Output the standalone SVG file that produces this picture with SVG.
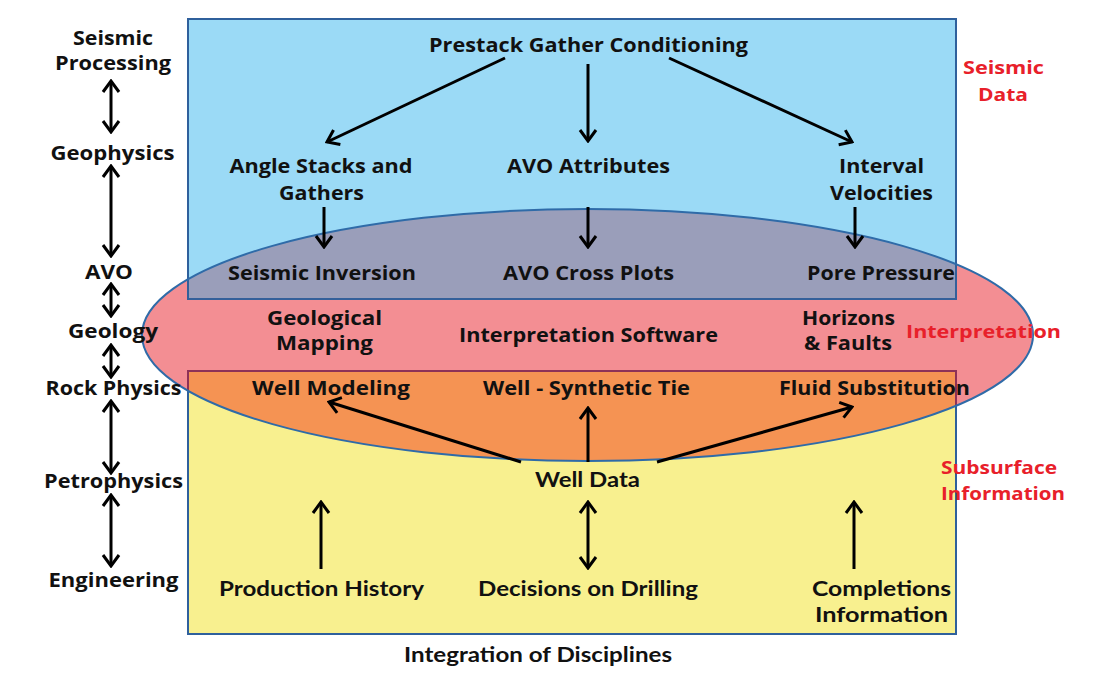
<svg xmlns="http://www.w3.org/2000/svg" width="1100" height="680" viewBox="0 0 1100 680">
<style>
.t{font-family:"Open Sans","DejaVu Sans",sans-serif;font-weight:700;font-size:20px;fill:#111;text-anchor:middle}
.l{font-family:"Open Sans","DejaVu Sans",sans-serif;font-weight:700;font-size:19.5px;fill:#111;text-anchor:middle}
.c{font-family:"Lato","Open Sans",sans-serif;font-weight:700;font-size:20px;fill:#111;text-anchor:middle}
.r{font-family:"Open Sans","DejaVu Sans",sans-serif;font-weight:700;font-size:18.5px;fill:#E8202A;text-anchor:middle}
.a{stroke:#000;stroke-width:3;fill:none;marker-end:url(#ah)}
.d{stroke:#000;stroke-width:3;fill:none;marker-end:url(#ah);marker-start:url(#ah)}
</style>
<defs>
<marker id="ah" viewBox="-14 -10 16 20" markerWidth="16" markerHeight="20" refX="0" refY="0" orient="auto-start-reverse" markerUnits="userSpaceOnUse">
<path d="M-11,-8 L0,0 L-11,8" fill="none" stroke="#000" stroke-width="3"/>
</marker>
<clipPath id="cTop"><rect x="188" y="19" width="768" height="280"/></clipPath>
<clipPath id="cBot"><rect x="188" y="371" width="768" height="263"/></clipPath>
<clipPath id="cEll"><ellipse cx="587.5" cy="335" rx="445.5" ry="126"/></clipPath>
</defs>
<rect width="1100" height="680" fill="#fff"/>

<g id="seismic-data-box">
<rect x="188" y="19" width="768" height="280" fill="#9BDAF6" stroke="#2F609C" stroke-width="2"/>
</g>
<g id="subsurface-box">
<rect x="188" y="371" width="768" height="263" fill="#F8F08F" stroke="#2F609C" stroke-width="2"/>
</g>
<g id="interpretation-ellipse">
<ellipse cx="587.5" cy="335" rx="445.5" ry="126" fill="#F38E93"/>
<ellipse cx="587.5" cy="335" rx="445.5" ry="126" fill="#9A9EBA" clip-path="url(#cTop)"/>
<ellipse cx="587.5" cy="335" rx="445.5" ry="126" fill="#F59353" clip-path="url(#cBot)"/>
<rect x="188" y="19" width="768" height="280" fill="none" stroke="#34609A" stroke-width="2" clip-path="url(#cEll)"/>
<rect x="188" y="371" width="768" height="263" fill="none" stroke="#8E3257" stroke-width="2" clip-path="url(#cEll)"/>
<ellipse cx="587.5" cy="335" rx="445.5" ry="126" fill="none" stroke="#2F6BA8" stroke-width="2"/>
</g>

<g id="connectors">
<line class="a" x1="505" y1="58" x2="327" y2="142"/>
<line class="a" x1="588" y1="64" x2="588" y2="141"/>
<line class="a" x1="669" y1="58" x2="852" y2="142"/>
<line class="a" x1="324" y1="207" x2="324" y2="247"/>
<line class="a" x1="588" y1="207" x2="588" y2="247"/>
<line class="a" x1="855" y1="207" x2="855" y2="247"/>
<line class="a" x1="521" y1="462" x2="329" y2="402"/>
<line class="a" x1="588" y1="462" x2="588" y2="408"/>
<line class="a" x1="657" y1="462" x2="852" y2="407"/>
<line class="a" x1="321" y1="569" x2="321" y2="502"/>
<line class="d" x1="588" y1="502" x2="588" y2="568"/>
<line class="a" x1="854" y1="569" x2="854" y2="502"/>
<line class="d" x1="111" y1="81" x2="111" y2="132"/>
<line class="d" x1="111" y1="166" x2="111" y2="256"/>
<line class="d" x1="111" y1="284" x2="111" y2="316"/>
<line class="d" x1="111" y1="345" x2="111" y2="377"/>
<line class="d" x1="111" y1="401" x2="111" y2="473"/>
<line class="d" x1="111" y1="495" x2="111" y2="566"/>
</g>

<g id="left-disciplines">
<text class="l" x="113" y="45" textLength="80" lengthAdjust="spacingAndGlyphs">Seismic</text>
<text class="l" x="113" y="70" textLength="116" lengthAdjust="spacingAndGlyphs">Processing</text>
<text class="l" x="112.5" y="160" textLength="124" lengthAdjust="spacingAndGlyphs">Geophysics</text>
<text class="l" x="109" y="279" textLength="48" lengthAdjust="spacingAndGlyphs">AVO</text>
<text class="l" x="113" y="338" textLength="90" lengthAdjust="spacingAndGlyphs">Geology</text>
<text class="l" x="113.5" y="395" textLength="136" lengthAdjust="spacingAndGlyphs">Rock Physics</text>
<text class="l" x="113.5" y="488" textLength="139" lengthAdjust="spacingAndGlyphs">Petrophysics</text>
<text class="l" x="113.5" y="587" textLength="130" lengthAdjust="spacingAndGlyphs">Engineering</text>
</g>

<g id="n-prestack"><text class="t" x="588.5" y="52" textLength="319" lengthAdjust="spacingAndGlyphs">Prestack Gather Conditioning</text></g>
<g id="n-angle"><text class="t" x="321" y="173" textLength="183" lengthAdjust="spacingAndGlyphs">Angle Stacks and</text><text class="t" x="321.5" y="200" textLength="85" lengthAdjust="spacingAndGlyphs">Gathers</text></g>
<g id="n-avoattr"><text class="t" x="588.5" y="173" textLength="163" lengthAdjust="spacingAndGlyphs">AVO Attributes</text></g>
<g id="n-interval"><text class="t" x="881.5" y="173" textLength="85" lengthAdjust="spacingAndGlyphs">Interval</text><text class="t" x="881.5" y="200" textLength="103" lengthAdjust="spacingAndGlyphs">Velocities</text></g>
<g id="n-inversion"><text class="t" x="322" y="280" textLength="188" lengthAdjust="spacingAndGlyphs">Seismic Inversion</text></g>
<g id="n-crossplots"><text class="t" x="588.5" y="280" textLength="171" lengthAdjust="spacingAndGlyphs">AVO Cross Plots</text></g>
<g id="n-pore"><text class="t" x="881" y="280" textLength="148" lengthAdjust="spacingAndGlyphs">Pore Pressure</text></g>
<g id="n-geomap"><text class="t" x="324.5" y="325" textLength="115" lengthAdjust="spacingAndGlyphs">Geological</text><text class="t" x="324.5" y="350" textLength="97" lengthAdjust="spacingAndGlyphs">Mapping</text></g>
<g id="n-software"><text class="t" x="588.5" y="342" textLength="259" lengthAdjust="spacingAndGlyphs">Interpretation Software</text></g>
<g id="n-horizons"><text class="t" x="848.5" y="325" textLength="93" lengthAdjust="spacingAndGlyphs">Horizons</text><text class="t" x="848" y="350" textLength="88" lengthAdjust="spacingAndGlyphs">&amp; Faults</text></g>
<g id="n-wellmodel"><text class="t" x="331" y="395" textLength="158" lengthAdjust="spacingAndGlyphs">Well Modeling</text></g>
<g id="n-welltie"><text class="t" x="586.5" y="395" textLength="207" lengthAdjust="spacingAndGlyphs">Well - Synthetic Tie</text></g>
<g id="n-fluid"><text class="t" x="874.5" y="395" textLength="191" lengthAdjust="spacingAndGlyphs">Fluid Substitution</text></g>
<g id="n-welldata"><text class="c" x="587.5" y="487" textLength="105" lengthAdjust="spacingAndGlyphs">Well Data</text></g>
<g id="n-production"><text class="c" x="321.5" y="596" textLength="205" lengthAdjust="spacingAndGlyphs">Production History</text></g>
<g id="n-decisions"><text class="c" x="588" y="596" textLength="220" lengthAdjust="spacingAndGlyphs">Decisions on Drilling</text></g>
<g id="n-completions"><text class="c" x="881.5" y="596" textLength="139" lengthAdjust="spacingAndGlyphs">Completions</text><text class="c" x="881.5" y="622" textLength="133" lengthAdjust="spacingAndGlyphs">Information</text></g>
<g id="n-integration"><text class="c" x="538" y="662" textLength="268" lengthAdjust="spacingAndGlyphs">Integration of Disciplines</text></g>

<g id="labels-red">
<text class="r" x="1003.5" y="74" textLength="81" lengthAdjust="spacingAndGlyphs">Seismic</text>
<text class="r" x="1003" y="101" textLength="50" lengthAdjust="spacingAndGlyphs">Data</text>
<text class="r" x="983.5" y="338" textLength="155" lengthAdjust="spacingAndGlyphs">Interpretation</text>
<text class="r" x="999" y="474" textLength="116" lengthAdjust="spacingAndGlyphs">Subsurface</text>
<text class="r" x="1003" y="500" textLength="124" lengthAdjust="spacingAndGlyphs">Information</text>
</g>
</svg>
